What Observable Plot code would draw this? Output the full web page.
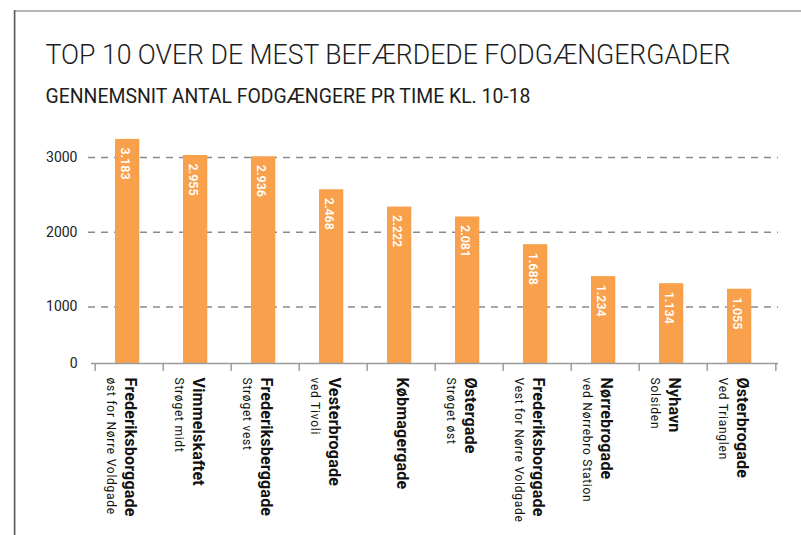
<!DOCTYPE html>
<html><head><meta charset="utf-8">
<script src="https://cdn.jsdelivr.net/npm/d3@7"></script>
<script src="https://cdn.jsdelivr.net/npm/@observablehq/plot@0.6"></script>
<style>
html,body{margin:0;padding:0;background:#fff;}
#wrap{position:relative;width:801px;height:535px;overflow:hidden;font-family:Roboto,sans-serif;}
#header{position:absolute;left:0;top:0;}
#frame{position:absolute;left:0;top:0;z-index:10;pointer-events:none;}
#chart{position:absolute;left:0;top:120px;}
.nm{letter-spacing:0.2px;}
.sb{letter-spacing:0.75px;}
</style></head>
<body>
<div id="wrap">
  <svg id="header" width="801" height="120">
    <text x="45.5" y="63.7" font-family="Roboto, sans-serif" font-weight="300" font-size="28" fill="#1d1d1d" textLength="685" lengthAdjust="spacingAndGlyphs">TOP 10 OVER DE MEST BEFÆRDEDE FODGÆNGERGADER</text>
    <text x="45.5" y="103.3" font-family="Roboto, sans-serif" font-weight="400" font-size="20.5" fill="#1d1d1d" textLength="485" lengthAdjust="spacingAndGlyphs">GENNEMSNIT ANTAL FODGÆNGERE PR TIME KL. 10-18</text>
  </svg>
  <div id="chart"></div>
  <svg id="frame" width="801" height="535">
    <line x1="14" y1="11" x2="801" y2="11" stroke="#9c9ca2" stroke-width="1.6"/>
    <line x1="14.6" y1="10.2" x2="14.6" y2="535" stroke="#55555e" stroke-width="1.6"/>
  </svg>
</div>
<script>
const names = ["Frederiksborggade","Vimmelskaftet","Frederiksberggade","Vesterbrogade","Købmagergade","Østergade","Frederiksborggade","Nørrebrogade","Nyhavn","Østerbrogade"];
const subs = ["øst for Nørre Voldgade","Strøget midt","Strøget vest","ved Tivoli","","Strøget øst","Vest for Nørre Voldgade","ved Nørrebro Station","Solsiden","Ved Trianglen"];
const values = [3183,2955,2936,2468,2222,2081,1688,1234,1134,1055];
// gridline positions as drawn in the original (its axis is not to scale with the bars)
const yTicks = [0,804,1865,2926];
const yTickLabels = ["0","1000","2000","3000"];

const keys = names.map((n,i)=>n+"|"+subs[i]);
const rows = keys.map((k,i)=>({key:k,name:names[i],sub:subs[i],value:values[i]}));
const fmt = d3.formatLocale({decimal:",",thousands:".",grouping:[3],currency:["",""]}).format(",");
const labelMap = new Map(yTicks.map((t,i)=>[t,yTickLabels[i]]));
const line = {draw(context, l){ context.moveTo(0,0); context.lineTo(0,-l); }};
const half = 687/10/2;

const chart = Plot.plot({
  width:801, height:415,
  marginLeft:91, marginRight:23, marginTop:4, marginBottom:172,
  x:{type:"band", domain:keys, paddingInner:0, paddingOuter:0, axis:null},
  y:{domain:[0,3395], label:null},
  style:{fontFamily:"Roboto, sans-serif", background:"transparent", overflow:"visible"},
  marks:[
    Plot.ruleY(yTicks.slice(1), {stroke:"#8a8a8a", strokeWidth:1.5, strokeDasharray:"7,6", insetLeft:-3}),
    Plot.barY(rows, {x:"key", y:"value", fill:"#f8a04b", insetLeft:20, insetRight:23.7}),
    Plot.ruleY([0], {stroke:"#9b9b9b", strokeWidth:1.5}),
    Plot.vector(keys, {x:d=>d, frameAnchor:"bottom", length:7, rotate:180, anchor:"start", dx:-half, stroke:"#9b9b9b", strokeWidth:1.5, shape:line}),
    Plot.vector([keys[keys.length-1]], {x:d=>d, frameAnchor:"bottom", length:7, rotate:180, anchor:"start", dx:half, stroke:"#9b9b9b", strokeWidth:1.5, shape:line}),
    Plot.text(rows, {x:"key", y:"value", text:d=>fmt(d.value), rotate:90, textAnchor:"start", lineAnchor:"middle", dy:8, dx:-5, fill:"white", fontWeight:600, fontSize:12.5}),
    Plot.text(rows, {x:"key", frameAnchor:"bottom", text:"name", rotate:90, textAnchor:"start", lineAnchor:"middle", dy:14, dx:0.5, fill:"#111", fontWeight:"bold", fontSize:16, className:"nm"}),
    Plot.text(rows, {x:"key", frameAnchor:"bottom", text:"sub", rotate:90, textAnchor:"start", lineAnchor:"middle", dy:14, dx:-18.5, fill:"#111", fontSize:12, className:"sb"}),
    Plot.axisY(yTicks, {tickFormat:d=>labelMap.get(d), tickSize:0, tickPadding:14, fontSize:14, fill:"#222", label:null})
  ]
});
document.getElementById("chart").appendChild(chart);
</script>
</body></html>
